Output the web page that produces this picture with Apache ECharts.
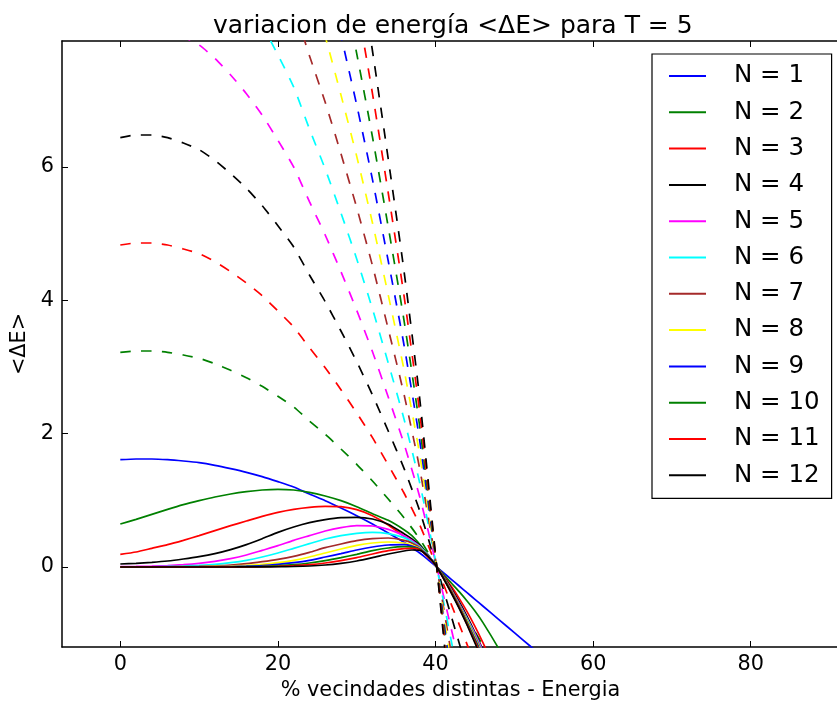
<!DOCTYPE html>
<html>
<head>
<meta charset="utf-8">
<script src="https://cdn.jsdelivr.net/npm/echarts@6/dist/echarts.min.js"></script>
<style>html,body{margin:0;padding:0;background:#fff;overflow:hidden}#c{width:837px;height:706px}</style>
</head>
<body>
<div id="c"></div>
<script>
// ---- data ----
const titleText = 'variacion de energía <ΔE> para T = 5';
const xLabel = '% vecindades distintas - Energia';
const yLabel = '<ΔE>';
const xTicks = [0, 20, 40, 60, 80];
const yTicks = [0, 2, 4, 6];
const seriesNames = ['N = 1','N = 2','N = 3','N = 4','N = 5','N = 6','N = 7','N = 8','N = 9','N = 10','N = 11','N = 12'];

// x positions of the solid curves
const xSolid = [0,2,4,6,8,10,12,14,16,18,20,22,24,26,28,30,32,34,36,37,38,39,40,41,42,43,44,45,46,48,50,52,54];
const solid1  = [1.61,1.62,1.62,1.61,1.59,1.565,1.525,1.475,1.42,1.355,1.28,1.2,1.095,0.995,0.885,0.77,0.645,0.51,0.37,0.29,0.21,0.115,0.015,-0.085,-0.185,-0.285,-0.385,-0.485,-0.585,-0.785,-0.985,-1.185,-1.385];
const solid2  = [0.645,0.715,0.79,0.865,0.935,0.995,1.05,1.095,1.13,1.155,1.165,1.155,1.12,1.065,0.995,0.905,0.8,0.7,0.56,0.47,0.34,0.19,0.03,-0.11,-0.24,-0.37,-0.51,-0.66,-0.83,-1.22,-1.65,-2.1,-2.6];
const solid3  = [0.19,0.225,0.28,0.335,0.4,0.47,0.545,0.62,0.69,0.76,0.82,0.865,0.895,0.91,0.905,0.86,0.77,0.63,0.46,0.37,0.27,0.15,0.03,-0.13,-0.29,-0.47,-0.67,-0.89,-1.13,-1.65,-2.2,-2.8,-3.4];
const solid4  = [0.045,0.055,0.07,0.09,0.12,0.155,0.2,0.26,0.335,0.425,0.52,0.6,0.665,0.71,0.74,0.745,0.72,0.64,0.5,0.42,0.32,0.18,0.03,-0.14,-0.32,-0.52,-0.74,-0.98,-1.24,-1.8,-2.4,-3,-3.6];
const solid5  = [0.005,0.008,0.013,0.022,0.035,0.055,0.085,0.125,0.18,0.25,0.32,0.4,0.47,0.54,0.59,0.62,0.615,0.565,0.47,0.4,0.31,0.18,0.03,-0.15,-0.34,-0.55,-0.77,-1.0,-1.26,-1.85,-2.45,-3.05,-3.65];
const solid6  = [0.001,0.002,0.004,0.008,0.015,0.025,0.04,0.065,0.1,0.15,0.21,0.28,0.35,0.42,0.47,0.505,0.52,0.5,0.44,0.38,0.3,0.18,0.03,-0.15,-0.35,-0.56,-0.78,-1.02,-1.28,-1.88,-2.5,-3.1,-3.7];
const solid7  = [0,0.001,0.002,0.003,0.006,0.01,0.018,0.03,0.05,0.08,0.115,0.16,0.22,0.29,0.345,0.395,0.425,0.435,0.4,0.36,0.29,0.17,0.03,-0.15,-0.35,-0.57,-0.8,-1.04,-1.3,-1.9,-2.5,-3.1,-3.7];
const solid8  = [0,0,0.001,0.001,0.002,0.004,0.008,0.014,0.025,0.04,0.065,0.1,0.15,0.21,0.27,0.325,0.36,0.375,0.36,0.33,0.28,0.17,0.03,-0.16,-0.36,-0.58,-0.81,-1.06,-1.32,-1.92,-2.52,-3.12,-3.72];
const solid9  = [0,0,0,0,0.001,0.001,0.003,0.006,0.012,0.022,0.04,0.065,0.1,0.15,0.2,0.255,0.3,0.33,0.335,0.315,0.27,0.17,0.03,-0.16,-0.37,-0.59,-0.83,-1.08,-1.34,-1.94,-2.54,-3.14,-3.74];
const solid10 = [0,0,0,0,0,0,0.001,0.002,0.005,0.01,0.02,0.035,0.06,0.095,0.14,0.19,0.245,0.285,0.305,0.3,0.265,0.165,0.03,-0.16,-0.37,-0.6,-0.84,-1.1,-1.36,-1.96,-2.56,-3.16,-3.76];
const solid11 = [0,0,0,0,0,0,0,0.001,0.002,0.005,0.01,0.02,0.035,0.06,0.095,0.14,0.195,0.245,0.275,0.28,0.26,0.165,0.03,-0.17,-0.38,-0.61,-0.86,-1.12,-1.38,-1.98,-2.58,-3.18,-3.78];
const solid12 = [0,0,0,0,0,0,0,0,0.001,0.002,0.004,0.008,0.015,0.03,0.055,0.09,0.14,0.195,0.24,0.255,0.25,0.165,0.03,-0.17,-0.39,-0.62,-0.87,-1.14,-1.4,-2.0,-2.6,-3.2,-3.8];

// x positions of the dashed curves
const xDashed = [0,2,4,6,8,10,12,14,16,18,20,22,24,26,28,30,32,34,36,38,40,42,44,46,48];
const dashed2  = [3.22,3.24,3.24,3.22,3.18,3.13,3.05,2.95,2.84,2.71,2.56,2.4,2.19,1.99,1.77,1.54,1.29,1.02,0.74,0.42,0.03,-0.37,-0.77,-1.17,-1.57];
const dashed3  = [4.83,4.86,4.86,4.83,4.77,4.7,4.58,4.43,4.26,4.07,3.84,3.6,3.29,2.99,2.66,2.31,1.94,1.53,1.11,0.63,0.05,-0.56,-1.16,-1.76,-2.36];
const dashed4  = [6.44,6.48,6.48,6.44,6.36,6.26,6.1,5.9,5.68,5.42,5.12,4.8,4.38,3.98,3.54,3.08,2.58,2.04,1.48,0.84,0.06,-0.74,-1.54,-2.34,-3.14];
const dashed5  = [8.05,8.1,8.1,8.05,7.95,7.83,7.63,7.38,7.1,6.78,6.4,6.0,5.48,4.98,4.43,3.85,3.23,2.55,1.85,1.05,0.08,-0.93,-1.93,-2.93,-3.93];
const dashed6  = [9.66,9.72,9.72,9.66,9.54,9.39,9.15,8.85,8.52,8.13,7.68,7.2,6.57,5.97,5.31,4.62,3.87,3.06,2.22,1.26,0.09,-1.11,-2.31,-3.51,-4.71];
const dashed7  = [11.27,11.34,11.34,11.27,11.13,10.96,10.68,10.33,9.94,9.49,8.96,8.4,7.67,6.97,6.2,5.39,4.52,3.57,2.59,1.47,0.11,-1.3,-2.7,-4.1,-5.5];
const dashed8  = [12.88,12.96,12.96,12.88,12.72,12.52,12.2,11.8,11.36,10.84,10.24,9.6,8.76,7.96,7.08,6.16,5.16,4.08,2.96,1.68,0.12,-1.48,-3.08,-4.68,-6.28];
const dashed9  = [14.49,14.58,14.58,14.49,14.31,14.09,13.73,13.28,12.78,12.2,11.52,10.8,9.86,8.96,7.97,6.93,5.81,4.59,3.33,1.89,0.14,-1.67,-3.47,-5.27,-7.07];
const dashed10 = [16.1,16.2,16.2,16.1,15.9,15.65,15.25,14.75,14.2,13.55,12.8,12.0,10.95,9.95,8.85,7.7,6.45,5.1,3.7,2.1,0.15,-1.85,-3.85,-5.85,-7.85];
const dashed11 = [17.71,17.82,17.82,17.71,17.49,17.22,16.78,16.23,15.62,14.91,14.08,13.2,12.05,10.95,9.74,8.47,7.1,5.61,4.07,2.31,0.17,-2.04,-4.24,-6.44,-8.64];
const dashed12 = [19.32,19.44,19.44,19.32,19.08,18.78,18.3,17.7,17.04,16.26,15.36,14.4,13.14,11.94,10.62,9.24,7.74,6.12,4.44,2.52,0.18,-2.22,-4.62,-7.02,-9.42];

// ---- styling ----
const colors = ['#0000ff','#008000','#ff0000','#000000','#ff00ff','#00ffff','#a52a2a','#ffff00','#0000ff','#008000','#ff0000','#000000'];
const FONT = 'DejaVu Sans';
const solids = [solid1,solid2,solid3,solid4,solid5,solid6,solid7,solid8,solid9,solid10,solid11,solid12];
const dasheds = [null,dashed2,dashed3,dashed4,dashed5,dashed6,dashed7,dashed8,dashed9,dashed10,dashed11,dashed12];

const series = [];
for (let i = 0; i < 12; i++) {
  series.push({
    name: seriesNames[i], type: 'line', showSymbol: false, symbol: 'none',
    smooth: 0.2,
    data: xSolid.map((x, k) => [x, solids[i][k]]),
    lineStyle: { color: colors[i], width: 1.7 }, itemStyle: { color: colors[i] },
    clip: true, silent: true
  });
  if (dasheds[i]) {
    series.push({
      name: seriesNames[i] + ' (N·ΔE₁)', type: 'line', showSymbol: false, symbol: 'none',
      smooth: 0.2,
      data: xDashed.map((x, k) => [x, dasheds[i][k]]),
      lineStyle: { color: colors[i], width: 1.7, type: [10.4, 10.4] }, itemStyle: { color: colors[i] },
      clip: true, silent: true
    });
  }
}

// plot spans 62..839 px horizontally; right spine lies just past the picture edge
const XMIN = -7.4, XMAX = 91.2, YMIN = -1.2, YMAX = 7.89;
const axisLine = { show: true, onZero: false, lineStyle: { color: '#000', width: 1.5 } };

const chart = echarts.init(document.getElementById('c'), null, { renderer: 'canvas' });
chart.setOption({
  animation: false,
  backgroundColor: '#fff',
  title: {
    text: titleText, left: 208, top: 6,
    textStyle: { fontFamily: FONT, fontSize: 25, fontWeight: 'normal', color: '#000', lineHeight: 30 }
  },
  grid: { show: false, borderWidth: 0, left: 62, top: 41, width: 777, height: 606, containLabel: false, outerBoundsMode: 'none' },
  legend: {
    data: seriesNames, orient: 'vertical', left: 652, top: 54,
    backgroundColor: '#fff', borderColor: '#000', borderWidth: 1.2, borderRadius: 0,
    padding: [9, 12, 10, 17], itemWidth: 37, itemHeight: 2, itemGap: 10.3, icon: 'rect',
    textStyle: { fontFamily: FONT, fontSize: 24.5, color: '#000', lineHeight: 26, padding: [0, 0, 0, 23] }
  },
  // the right spine of the original figure falls just outside the picture
  graphic: [{
    type: 'rect', right: 0, top: 42, z: 100, silent: true,
    shape: { width: 4, height: 604 }, style: { fill: '#fff' }
  }],
  xAxis: [{
    type: 'value', min: XMIN, max: XMAX, position: 'bottom',
    name: xLabel, nameLocation: 'middle', nameGap: 33,
    nameTextStyle: { fontFamily: FONT, fontSize: 20.8, color: '#000' },
    axisLine: axisLine,
    axisTick: { show: true, inside: true, length: 6, customValues: xTicks, lineStyle: { color: '#000', width: 1 } },
    axisLabel: { show: true, customValues: xTicks, margin: 7, fontFamily: FONT, fontSize: 20.8, color: '#000' },
    splitLine: { show: false }, minorSplitLine: { show: false }
  }, {
    type: 'value', min: XMIN, max: XMAX, position: 'top',
    axisLine: axisLine,
    axisTick: { show: true, inside: true, length: 6, customValues: xTicks, lineStyle: { color: '#000', width: 1 } },
    axisLabel: { show: false }, splitLine: { show: false }, minorSplitLine: { show: false }
  }],
  yAxis: [{
    type: 'value', min: YMIN, max: YMAX, position: 'left',
    name: yLabel, nameLocation: 'middle', nameGap: 25, nameRotate: 90,
    nameTextStyle: { fontFamily: FONT, fontSize: 20.8, color: '#000' },
    axisLine: axisLine,
    axisTick: { show: true, inside: true, length: 6, customValues: yTicks, lineStyle: { color: '#000', width: 1 } },
    axisLabel: { show: true, customValues: yTicks, margin: 8, fontFamily: FONT, fontSize: 20.8, color: '#000' },
    splitLine: { show: false }, minorSplitLine: { show: false }
  }],
  series: series
});
</script>
</body>
</html>
